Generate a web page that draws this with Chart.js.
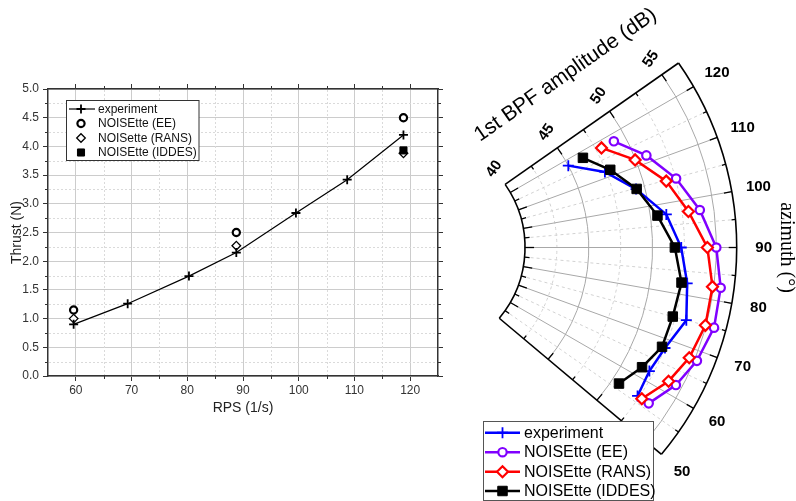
<!DOCTYPE html>
<html>
<head>
<meta charset="utf-8">
<script src="https://cdn.jsdelivr.net/npm/chart.js"></script>
<style>
  html, body { margin: 0; padding: 0; background: #fff; }
  #wrap { position: relative; width: 796px; height: 501px; overflow: hidden; }
  #thrustChart { position: absolute; left: 0; top: 0; }
  #polarChart { position: absolute; left: 460px; top: 0; }
</style>
</head>
<body>
<div id="wrap">
  <canvas id="thrustChart" width="460" height="501"></canvas>
  <canvas id="polarChart" width="336" height="501"></canvas>
</div>
<script>
// --- Thrust vs RPS ---
const rpsExp = [59.6, 69.3, 80.3, 88.8, 99.5, 108.7, 118.8];
const thrustExp = [0.90, 1.26, 1.74, 2.15, 2.84, 3.42, 4.20];
const rpsSim = [59.6, 88.8, 118.8];
const thrustEE = [1.15, 2.50, 4.50];
const thrustRANS = [1.00, 2.27, 3.88];
const rpsIDDES = [118.8];
const thrustIDDES = [3.93];

// --- 1st BPF directivity ---
const azimuthDeg = [118.1, 111.7, 104.8, 97.5, 90, 82.5, 75.0, 68.1, 62.2, 56.3];
const dbExp = [45.0, 47.4, 49.3, 51.25, 52.25, 52.9, 53.4, 52.5, 52.15, 52.35];
const dbEE = [49.05, 50.9, 52.55, 53.9, 55.0, 55.55, 55.65, 55.2, 54.5, 53.4];
const dbRANS = [47.95, 49.95, 51.75, 53.0, 54.3, 54.9, 54.95, 54.55, 53.85, 52.75];
const dbIDDES = [46.3, 47.85, 49.35, 50.55, 51.75, 52.45, 52.3, 52.25, 51.5, 50.6];
const azTickLabels = [50, 60, 70, 80, 90, 100, 110, 120];
const dbTickLabels = [40, 45, 50, 55];

// polar sector settings
const AZ_MIN = 50, AZ_MAX = 125;
const DB_MIN = 40, DB_MAX = 56.6;
const HOLE_DB = 8.63; // inner radius of the sector, in dB units

const FONT = '"Liberation Sans", Arial, sans-serif';
Chart.defaults.font.family = FONT;

function drawMarker(ctx, style, x, y, radius, borderWidth, stroke, fill) {
  ctx.save();
  ctx.strokeStyle = stroke;
  ctx.fillStyle = fill;
  ctx.lineWidth = borderWidth;
  ctx.setLineDash([]);
  if (Chart.helpers && Chart.helpers.drawPoint) {
    Chart.helpers.drawPoint(ctx, { pointStyle: style, radius: radius, borderWidth: borderWidth, rotation: 0 }, x, y);
  } else {
    ctx.beginPath();
    if (style === 'circle') ctx.arc(x, y, radius, 0, Math.PI * 2);
    else if (style === 'rect') { const s = radius * Math.SQRT1_2; ctx.rect(x - s, y - s, 2 * s, 2 * s); }
    else if (style === 'rectRot') { ctx.moveTo(x - radius, y); ctx.lineTo(x, y - radius); ctx.lineTo(x + radius, y); ctx.lineTo(x, y + radius); ctx.closePath(); }
    else { ctx.moveTo(x - radius, y); ctx.lineTo(x + radius, y); ctx.moveTo(x, y - radius); ctx.lineTo(x, y + radius); }
    if (style !== 'cross') ctx.fill();
    ctx.stroke();
  }
  ctx.restore();
}

// ================= Left chart: thrust =================
const isMajorRps = v => Math.round(v) % 10 === 0;
const isMajorThrust = v => Math.round(v * 4) % 2 === 0;

const thrustDecor = {
  id: 'thrustDecor',
  beforeDatasetsDraw(chart) {
    const { ctx, chartArea: a, scales } = chart;
    const xs = scales.x, ys = scales.y;
    ctx.save();
    // dotted minor grid
    ctx.strokeStyle = '#dadada';
    ctx.lineWidth = 1;
    ctx.setLineDash([2, 2]);
    xs.ticks.forEach(t => {
      if (isMajorRps(t.value) || t.value <= xs.min || t.value >= xs.max) return;
      const px = Math.round(xs.getPixelForValue(t.value)) + 0.5;
      ctx.beginPath(); ctx.moveTo(px, a.top + 1); ctx.lineTo(px, a.bottom - 1); ctx.stroke();
    });
    ys.ticks.forEach(t => {
      if (isMajorThrust(t.value) || t.value <= ys.min || t.value >= ys.max) return;
      const py = Math.round(ys.getPixelForValue(t.value)) + 0.5;
      ctx.beginPath(); ctx.moveTo(a.left + 1, py); ctx.lineTo(a.right - 1, py); ctx.stroke();
    });
    // short minor tick marks on all four sides
    ctx.setLineDash([]);
    ctx.strokeStyle = '#333';
    xs.ticks.forEach(t => {
      if (isMajorRps(t.value) || t.value <= xs.min || t.value >= xs.max) return;
      const px = Math.round(xs.getPixelForValue(t.value)) + 0.5;
      ctx.beginPath();
      ctx.moveTo(px, a.bottom); ctx.lineTo(px, a.bottom + 3);
      ctx.moveTo(px, a.top); ctx.lineTo(px, a.top - 3);
      ctx.stroke();
    });
    ys.ticks.forEach(t => {
      if (isMajorThrust(t.value) || t.value <= ys.min || t.value >= ys.max) return;
      const py = Math.round(ys.getPixelForValue(t.value)) + 0.5;
      ctx.beginPath();
      ctx.moveTo(a.left, py); ctx.lineTo(a.left - 3, py);
      ctx.moveTo(a.right, py); ctx.lineTo(a.right + 3, py);
      ctx.stroke();
    });
    ctx.restore();
  },
  afterDraw(chart) {
    const ctx = chart.ctx;
    const box = { x: 66.5, y: 100.5, w: 132.5, h: 60 };
    ctx.save();
    ctx.fillStyle = '#fff';
    ctx.strokeStyle = '#333';
    ctx.lineWidth = 1;
    ctx.fillRect(box.x, box.y, box.w, box.h);
    ctx.strokeRect(box.x, box.y, box.w, box.h);
    const rows = [109, 123.5, 138, 152.5];
    ctx.font = '12px ' + FONT;
    ctx.textBaseline = 'middle';
    ctx.fillStyle = '#111';
    chart.data.datasets.forEach((ds, i) => {
      const y = rows[i];
      if (ds.showLine) {
        ctx.strokeStyle = ds.borderColor;
        ctx.lineWidth = ds.borderWidth;
        ctx.beginPath(); ctx.moveTo(69, y); ctx.lineTo(95, y); ctx.stroke();
      }
      drawMarker(ctx, ds.pointStyle, 81, y, ds.pointRadius, ds.pointBorderWidth, ds.pointBorderColor, ds.pointBackgroundColor);
      ctx.fillStyle = '#111';
      ctx.fillText(ds.label, 98, y + 0.5);
    });
    ctx.restore();
  }
};

const tickFont = { family: FONT, size: 12 };

new Chart(document.getElementById('thrustChart'), {
  type: 'scatter',
  data: {
    datasets: [
      {
        label: 'experiment',
        data: rpsExp.map((x, i) => ({ x: x, y: thrustExp[i] })),
        showLine: true, borderColor: '#000', borderWidth: 1.2,
        pointStyle: 'cross', pointRadius: 4.5, pointBorderWidth: 1.8,
        pointBorderColor: '#000', pointBackgroundColor: '#000', order: 0
      },
      {
        label: 'NOISEtte (EE)',
        data: rpsSim.map((x, i) => ({ x: x, y: thrustEE[i] })),
        showLine: false, borderColor: '#000',
        pointStyle: 'circle', pointRadius: 3.6, pointBorderWidth: 2.2,
        pointBorderColor: '#000', pointBackgroundColor: '#fff', order: 3
      },
      {
        label: 'NOISette (RANS)',
        data: rpsSim.map((x, i) => ({ x: x, y: thrustRANS[i] })),
        showLine: false, borderColor: '#000',
        pointStyle: 'rectRot', pointRadius: 4.3, pointBorderWidth: 1.3,
        pointBorderColor: '#000', pointBackgroundColor: '#fff', order: 2
      },
      {
        label: 'NOISEtte (IDDES)',
        data: rpsIDDES.map((x, i) => ({ x: x, y: thrustIDDES[i] })),
        showLine: false, borderColor: '#000',
        pointStyle: 'rect', pointRadius: 5, pointBorderWidth: 1,
        pointBorderColor: '#000', pointBackgroundColor: '#000', order: 1
      }
    ]
  },
  options: {
    responsive: false,
    animation: false,
    layout: { autoPadding: false, padding: { left: 0, right: 0, top: 0, bottom: 80 } },
    plugins: { legend: { display: false }, tooltip: { enabled: false } },
    scales: {
      x: {
        type: 'linear', position: 'bottom', min: 55, max: 125,
        ticks: {
          stepSize: 5, autoSkip: false, maxRotation: 0, padding: 2, color: '#333', font: tickFont,
          callback: v => isMajorRps(v) ? String(Math.round(v)) : ''
        },
        grid: {
          color: c => isMajorRps(c.tick.value) ? '#cccccc' : 'rgba(0,0,0,0)',
          tickColor: c => isMajorRps(c.tick.value) ? '#333' : 'rgba(0,0,0,0)',
          tickLength: 5
        },
        border: { color: '#333', width: 1.5 },
        title: { display: true, text: 'RPS (1/s)', color: '#222', font: { family: FONT, size: 14 }, padding: { top: 0, bottom: 4 } },
        afterFit: s => { s.height = 45; }
      },
      x2: {
        type: 'linear', axis: 'x', position: 'top', min: 55, max: 125,
        ticks: { stepSize: 5, autoSkip: false, maxRotation: 0, callback: () => '' },
        grid: {
          drawOnChartArea: false,
          tickColor: c => isMajorRps(c.tick.value) ? '#333' : 'rgba(0,0,0,0)',
          tickLength: 5
        },
        border: { color: '#333', width: 1.5 },
        afterFit: s => { s.height = 89; }
      },
      y: {
        type: 'linear', position: 'left', min: 0, max: 5,
        ticks: {
          stepSize: 0.25, autoSkip: false, padding: 4, color: '#333', font: tickFont,
          callback: v => isMajorThrust(v) ? v.toFixed(1) : ''
        },
        grid: {
          color: c => isMajorThrust(c.tick.value) ? '#cccccc' : 'rgba(0,0,0,0)',
          tickColor: c => isMajorThrust(c.tick.value) ? '#333' : 'rgba(0,0,0,0)',
          tickLength: 5
        },
        border: { color: '#333', width: 1.5 },
        title: { display: true, text: 'Thrust (N)', color: '#222', font: { family: FONT, size: 14 }, padding: { top: 9, bottom: 0 } },
        afterFit: s => { s.width = 48; }
      },
      y2: {
        type: 'linear', axis: 'y', position: 'right', min: 0, max: 5,
        ticks: { stepSize: 0.25, autoSkip: false, callback: () => '' },
        grid: {
          drawOnChartArea: false,
          tickColor: c => isMajorThrust(c.tick.value) ? '#333' : 'rgba(0,0,0,0)',
          tickLength: 5
        },
        border: { color: '#333', width: 1.5 },
        afterFit: s => { s.width = 22; }
      }
    }
  },
  plugins: [thrustDecor]
});

// ================= Right chart: polar directivity =================
function polarPoints(dbValues) {
  return azimuthDeg.map((az, i) => {
    const a = (az - 90) * Math.PI / 180;
    const rho = dbValues[i] - DB_MIN + HOLE_DB;
    return { x: rho * Math.cos(a), y: rho * Math.sin(a) };
  });
}

function polarGeom(chart) {
  const xs = chart.scales.x, ys = chart.scales.y;
  const cx = xs.getPixelForValue(0), cy = ys.getPixelForValue(0);
  const k = xs.getPixelForValue(1) - cx;
  const r = db => (db - DB_MIN + HOLE_DB) * k;
  const ang = az => (az - 90) * Math.PI / 180;
  const at = (az, db, off = 0) => {
    const a = ang(az), rr = r(db) + off;
    return { x: cx + rr * Math.cos(a), y: cy - rr * Math.sin(a) };
  };
  return { cx, cy, k, r, ang, at };
}

const polarDecor = {
  id: 'polarDecor',
  beforeDatasetsDraw(chart) {
    const ctx = chart.ctx;
    const g = polarGeom(chart);
    const a0 = -g.ang(AZ_MAX), a1 = -g.ang(AZ_MIN);
    ctx.save();
    ctx.lineWidth = 1;

    // minor (dashed) rings and spokes
    ctx.strokeStyle = '#d2d2d2';
    ctx.setLineDash([3, 3]);
    for (let db = 42.5; db < DB_MAX; db += 5) {
      ctx.beginPath(); ctx.arc(g.cx, g.cy, g.r(db), a0, a1); ctx.stroke();
    }
    for (let az = 55; az < AZ_MAX; az += 10) {
      const p = g.at(az, DB_MIN), q = g.at(az, DB_MAX);
      ctx.beginPath(); ctx.moveTo(p.x, p.y); ctx.lineTo(q.x, q.y); ctx.stroke();
    }
    // major (solid) rings and spokes
    ctx.setLineDash([]);
    ctx.strokeStyle = '#a8a8a8';
    for (let db = 45; db < DB_MAX; db += 5) {
      ctx.beginPath(); ctx.arc(g.cx, g.cy, g.r(db), a0, a1); ctx.stroke();
    }
    for (let az = 60; az < AZ_MAX; az += 10) {
      const p = g.at(az, DB_MIN), q = g.at(az, DB_MAX);
      ctx.beginPath(); ctx.moveTo(p.x, p.y); ctx.lineTo(q.x, q.y); ctx.stroke();
    }

    // frame
    ctx.strokeStyle = '#000';
    ctx.lineWidth = 1.6;
    ctx.beginPath(); ctx.arc(g.cx, g.cy, g.r(DB_MIN), a0, a1); ctx.stroke();
    ctx.beginPath(); ctx.arc(g.cx, g.cy, g.r(DB_MAX), a0, a1); ctx.stroke();
    [AZ_MIN, AZ_MAX].forEach(az => {
      const p = g.at(az, DB_MIN), q = g.at(az, DB_MAX);
      ctx.beginPath(); ctx.moveTo(p.x, p.y); ctx.lineTo(q.x, q.y); ctx.stroke();
    });

    // angular ticks on both arcs (pointing into the sector)
    ctx.lineWidth = 1.3;
    for (let az = AZ_MIN + 5; az < AZ_MAX; az += 5) {
      const major = az % 10 === 0;
      let p = g.at(az, DB_MIN), q = g.at(az, DB_MIN, major ? 9 : 5);
      ctx.beginPath(); ctx.moveTo(p.x, p.y); ctx.lineTo(q.x, q.y); ctx.stroke();
      p = g.at(az, DB_MAX); q = g.at(az, DB_MAX, major ? -8 : -4);
      ctx.beginPath(); ctx.moveTo(p.x, p.y); ctx.lineTo(q.x, q.y); ctx.stroke();
    }
    // radial ticks on both straight edges
    [[AZ_MAX, 1], [AZ_MIN, -1]].forEach(([az, dir]) => {
      const a = g.ang(az);
      const nx = dir * Math.sin(a), ny = dir * Math.cos(a);
      for (let db = DB_MIN + 2.5; db < DB_MAX; db += 2.5) {
        const len = (db % 5 === 0) ? 8 : 4;
        const p = g.at(az, db);
        ctx.beginPath(); ctx.moveTo(p.x, p.y); ctx.lineTo(p.x + nx * len, p.y + ny * len); ctx.stroke();
      }
    });
    ctx.restore();
  },
  afterDraw(chart) {
    const ctx = chart.ctx;
    const g = polarGeom(chart);
    ctx.save();
    ctx.fillStyle = '#000';
    ctx.textAlign = 'center';
    ctx.textBaseline = 'middle';

    // azimuth tick labels
    ctx.font = 'bold 15px ' + FONT;
    azTickLabels.forEach(az => {
      const p = g.at(az, DB_MAX, 27);
      ctx.fillText(String(az), p.x, p.y);
    });

    // amplitude tick labels along the upper edge
    const aTop = g.ang(AZ_MAX);
    const ox = -Math.sin(aTop), oy = -Math.cos(aTop);
    dbTickLabels.forEach(db => {
      const p = g.at(AZ_MAX, db);
      ctx.save();
      ctx.translate(p.x + ox * 19, p.y + oy * 19);
      ctx.rotate(-55 * Math.PI / 180);
      ctx.fillText(String(db), 0, 0);
      ctx.restore();
    });

    // amplitude axis title
    const tp = g.at(AZ_MAX, 48.8);
    ctx.save();
    ctx.translate(tp.x + ox * 55, tp.y + oy * 55);
    ctx.rotate(-aTop);
    ctx.font = '21px ' + FONT;
    ctx.fillText('1st BPF amplitude (dB)', 0, 0);
    ctx.restore();

    // azimuth axis title
    const ap = g.at(90, DB_MAX, 44);
    ctx.save();
    ctx.translate(ap.x, ap.y);
    ctx.rotate(Math.PI / 2);
    ctx.font = '20px "Liberation Serif", "Times New Roman", serif';
    ctx.textBaseline = 'alphabetic';
    ctx.fillText('azimuth (\u00B0)', 0, 0);
    ctx.restore();

    // legend
    const box = { x: 23.5, y: 421.5, w: 170, h: 79 };
    ctx.fillStyle = '#fff';
    ctx.fillRect(box.x, box.y, box.w, box.h);
    ctx.strokeStyle = '#555';
    ctx.lineWidth = 1;
    ctx.strokeRect(box.x, box.y, box.w, box.h);
    const rows = [432.7, 452.2, 471.7, 491];
    ctx.font = '16px ' + FONT;
    ctx.textAlign = 'left';
    ctx.textBaseline = 'middle';
    chart.data.datasets.forEach((ds, i) => {
      const y = rows[i];
      ctx.strokeStyle = ds.borderColor;
      ctx.lineWidth = ds.borderWidth;
      ctx.beginPath(); ctx.moveTo(25, y); ctx.lineTo(60, y); ctx.stroke();
      drawMarker(ctx, ds.pointStyle, 42.5, y, ds.pointRadius, ds.pointBorderWidth, ds.pointBorderColor, ds.pointBackgroundColor);
      ctx.fillStyle = '#000';
      ctx.fillText(ds.label, 64, y + 0.5);
    });
    ctx.restore();
  }
};

new Chart(document.getElementById('polarChart'), {
  type: 'scatter',
  data: {
    datasets: [
      {
        label: 'experiment', data: polarPoints(dbExp), showLine: true,
        borderColor: '#0000ff', borderWidth: 2.5,
        pointStyle: 'cross', pointRadius: 5.5, pointBorderWidth: 1.8,
        pointBorderColor: '#0000ff', pointBackgroundColor: '#0000ff', order: 3
      },
      {
        label: 'NOISEtte (EE)', data: polarPoints(dbEE), showLine: true,
        borderColor: '#8000ff', borderWidth: 2.5,
        pointStyle: 'circle', pointRadius: 4.2, pointBorderWidth: 2.2,
        pointBorderColor: '#8000ff', pointBackgroundColor: '#fff', order: 2
      },
      {
        label: 'NOISEtte (RANS)', data: polarPoints(dbRANS), showLine: true,
        borderColor: '#ff0000', borderWidth: 2.5,
        pointStyle: 'rectRot', pointRadius: 5.5, pointBorderWidth: 2.2,
        pointBorderColor: '#ff0000', pointBackgroundColor: '#fff', order: 1
      },
      {
        label: 'NOISEtte (IDDES)', data: polarPoints(dbIDDES), showLine: true,
        borderColor: '#000000', borderWidth: 2.5,
        pointStyle: 'rect', pointRadius: 6.7, pointBorderWidth: 1,
        pointBorderColor: '#000000', pointBackgroundColor: '#000000', order: 0
      }
    ]
  },
  options: {
    responsive: false,
    animation: false,
    layout: { autoPadding: false, padding: 0 },
    plugins: { legend: { display: false }, tooltip: { enabled: false } },
    elements: { line: { tension: 0 } },
    scales: {
      x: { type: 'linear', display: false, min: 3.53, max: 29.88 },
      y: { type: 'linear', display: false, min: -19.88, max: 19.41 }
    }
  },
  plugins: [polarDecor]
});
</script>
</body>
</html>
